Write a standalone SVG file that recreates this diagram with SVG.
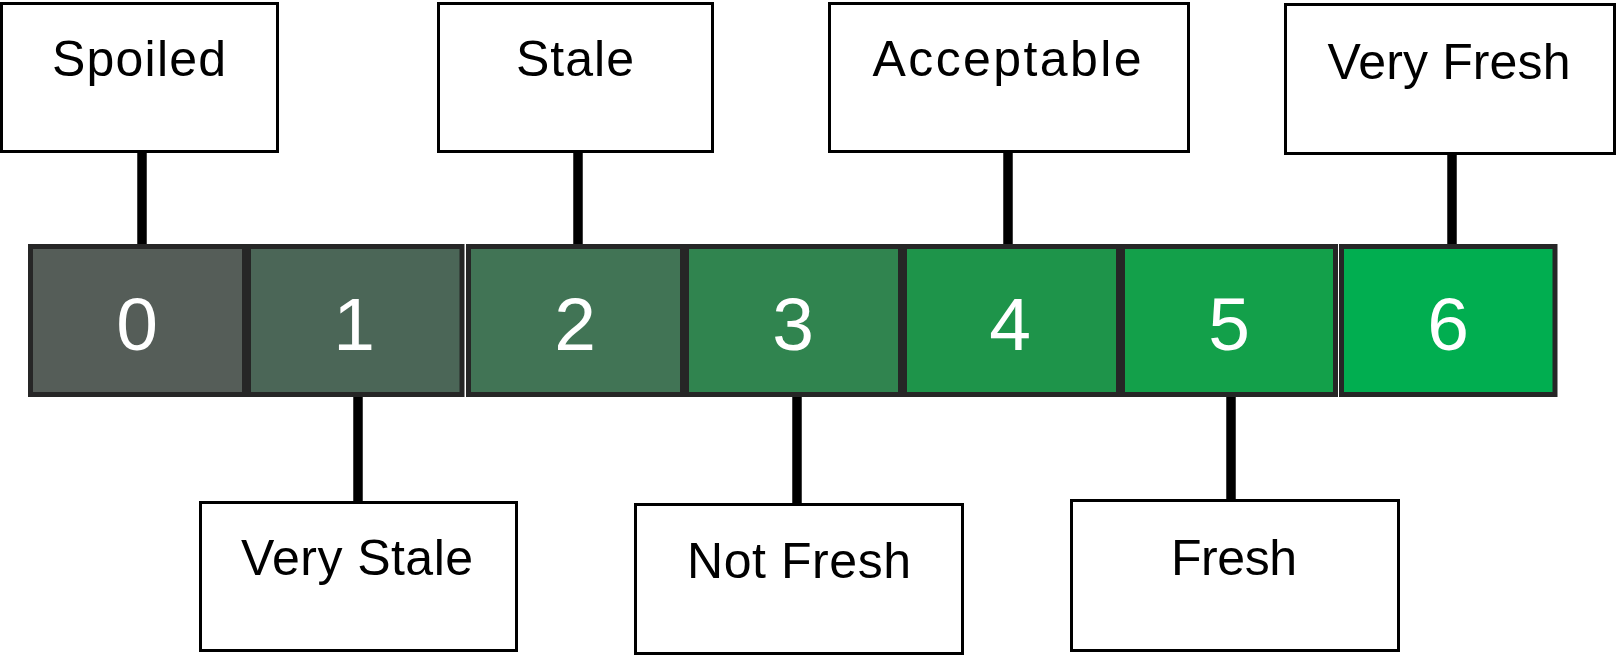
<svg xmlns="http://www.w3.org/2000/svg" width="1616" height="656" viewBox="0 0 1616 656">
<style>
.box{fill:#ffffff;stroke:#000000;stroke-width:3}
.lbl{font-family:"Liberation Sans",Arial,sans-serif;font-size:50px;fill:#000000;text-anchor:middle}
.cell{stroke:#262626;stroke-width:5}
.num{font-family:"Liberation Sans",Arial,sans-serif;font-size:75px;fill:#ffffff;text-anchor:middle}
.conn{stroke:#000000;stroke-width:9.5;fill:none}
</style>
<rect width="1616" height="656" fill="#ffffff"/>
<g id="connectors">
<line class="conn" x1="142" y1="152" x2="142" y2="247"/>
<line class="conn" x1="578" y1="152" x2="578" y2="247"/>
<line class="conn" x1="1008" y1="152" x2="1008" y2="247"/>
<line class="conn" x1="1452" y1="154" x2="1452" y2="247"/>
<line class="conn" x1="358" y1="394" x2="358" y2="502"/>
<line class="conn" x1="797" y1="394" x2="797" y2="504"/>
<line class="conn" x1="1231" y1="394" x2="1231" y2="500"/>
</g>
<g id="scale">
<g id="cell0"><rect class="cell" x="30.5" y="246.5" width="214" height="148" fill="#555d58"/><text class="num" x="137" y="350">0</text></g>
<g id="cell1"><rect class="cell" x="248.5" y="246.5" width="213.5" height="148" fill="#4b6657"/><text class="num" x="354" y="350">1</text></g>
<g id="cell2"><rect class="cell" x="468.5" y="246.5" width="214" height="148" fill="#417455"/><text class="num" x="575" y="350">2</text></g>
<g id="cell3"><rect class="cell" x="686.5" y="246.5" width="214" height="148" fill="#30844f"/><text class="num" x="793" y="350">3</text></g>
<g id="cell4"><rect class="cell" x="904.5" y="246.5" width="214" height="148" fill="#1e944a"/><text class="num" x="1010" y="350">4</text></g>
<g id="cell5"><rect class="cell" x="1122.5" y="246.5" width="213" height="148" fill="#13a04a"/><text class="num" x="1229" y="350">5</text></g>
<g id="cell6"><rect class="cell" x="1341.5" y="246.5" width="213.5" height="148" fill="#01ae50"/><text class="num" x="1448" y="350">6</text></g>
</g>
<g id="spoiled"><rect class="box" x="1.5" y="3.5" width="276" height="148"/><text class="lbl" x="139" y="76" textLength="174">Spoiled</text></g>
<g id="stale"><rect class="box" x="438.5" y="3.5" width="274" height="148"/><text class="lbl" x="575" y="76" textLength="118">Stale</text></g>
<g id="acceptable"><rect class="box" x="829.5" y="3.5" width="359" height="148"/><text class="lbl" x="1007" y="76" textLength="269">Acceptable</text></g>
<g id="very-fresh"><rect class="box" x="1285.5" y="4.5" width="329" height="149"/><text class="lbl" x="1449" y="79" textLength="243">Very Fresh</text></g>
<g id="very-stale"><rect class="box" x="200.5" y="502.5" width="316" height="148"/><text class="lbl" x="357" y="575" textLength="232">Very Stale</text></g>
<g id="not-fresh"><rect class="box" x="635.5" y="504.5" width="327" height="149"/><text class="lbl" x="799" y="578" textLength="224">Not Fresh</text></g>
<g id="fresh"><rect class="box" x="1071.5" y="500.5" width="327" height="150"/><text class="lbl" x="1234" y="575" textLength="126">Fresh</text></g>
</svg>
